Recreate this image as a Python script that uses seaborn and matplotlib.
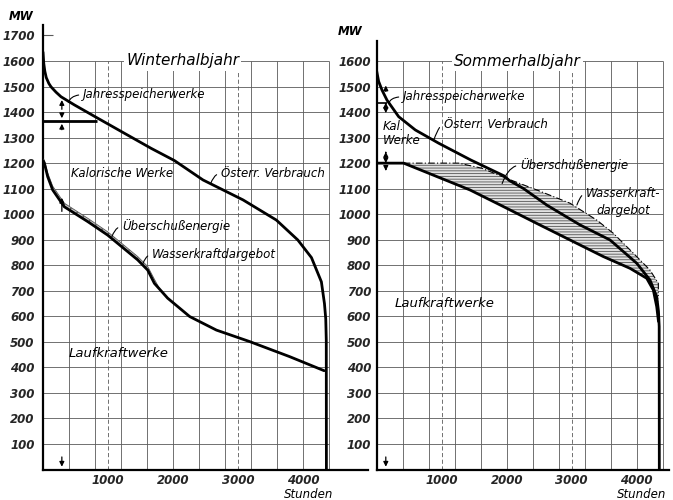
import matplotlib
matplotlib.use("Agg")
import matplotlib.pyplot as plt
import numpy as np
import pandas as pd
import seaborn as sns

# Winterhalbjahr (hours, MW)
winter_demand_h = [0, 12, 28, 50, 90, 123, 200, 277, 483, 842, 1252, 1663, 2022, 2462, 3077, 3590, 3920, 4130, 4283, 4330, 4350, 4358, 4360]
winter_demand_mw = [1635, 1590, 1560, 1535, 1512, 1499, 1478, 1460, 1428, 1376, 1317, 1258, 1210, 1134, 1056, 977, 899, 830, 735, 650, 590, 507, 0]
winter_run_h = [0, 21, 72, 149, 328, 688, 995, 1457, 1611, 1714, 1918, 2257, 2668, 3180, 3795, 4325]
winter_run_mw = [1210, 1200, 1147, 1095, 1029, 971, 918, 821, 781, 729, 671, 599, 546, 501, 442, 387]
winter_hydro_h = [0, 21, 72, 149, 328, 688, 995, 1457, 1611, 1714, 1800]
winter_hydro_mw = [1216, 1212, 1162, 1110, 1043, 984, 931, 834, 795, 745, 705]
winter_storage_mw = 1365
winter_storage_h = 830

# Sommerhalbjahr
summer_demand_h = [0, 30, 82, 158, 338, 594, 954, 1450, 1960, 2040, 2256, 2615, 3128, 3590, 4000, 4205, 4308, 4335, 4346, 4348]
summer_demand_mw = [1560, 1520, 1486, 1447, 1382, 1330, 1278, 1212, 1150, 1132, 1101, 1036, 958, 899, 808, 742, 677, 620, 560, 0]
summer_run_h = [0, 415, 1435, 1948, 2462, 2974, 3487, 3897, 4154, 4256, 4308, 4335]
summer_run_mw = [1200, 1200, 1095, 1030, 964, 899, 834, 788, 749, 703, 638, 580]
summer_hydro_h = [415, 1262, 1620, 2000, 2462, 2974, 3385, 3641, 3949, 4205, 4333, 4333]
summer_hydro_mw = [1200, 1200, 1180, 1140, 1095, 1043, 977, 925, 847, 781, 729, 680]
summer_storage_mw = 1437
summer_storage_h = 160

y_ticks_left = [100, 200, 300, 400, 500, 600, 700, 800, 900, 1000, 1100, 1200, 1300, 1400, 1500, 1600, 1700]
y_ticks_right = y_ticks_left[:-1]
x_ticks = [1000, 2000, 3000, 4000]

sns.set_style("white")
plt.rcParams["font.family"] = ["Liberation Sans Narrow", "DejaVu Sans"]
plt.rcParams["hatch.linewidth"] = 0.6

fig = plt.figure(figsize=(6.73, 5.0), dpi=100)
ax1 = fig.add_axes([43 / 673, 30.5 / 500, 325 / 673, 444.5 / 500])
ax2 = fig.add_axes([376.7 / 673, 30.5 / 500, 292.5 / 673, 428.9 / 500])

txt = dict(style="italic", color="black")
grid_c = "#5a5a5a"


def frame(ax, ymax, yticks, pad):
    ax.set_xlim(0, ax.get_position().width * 673 / 0.065)
    ax.set_ylim(0, ymax)
    for s in ["top", "right"]:
        ax.spines[s].set_visible(False)
    for s in ["left", "bottom"]:
        ax.spines[s].set_linewidth(1.6)
        ax.spines[s].set_color("black")
    # grid of the original drawing
    ax.hlines(range(100, 1700, 100), 0, 4400, color=grid_c, lw=0.6, zorder=1)
    ax.vlines(range(400, 4800, 400), 0, 1600, color=grid_c, lw=0.6, zorder=1)
    ax.vlines([1000, 3000], 0, 1600, color=grid_c, lw=0.6, linestyles=(0, (5, 3)), zorder=1)
    ax.set_yticks(yticks)
    ax.set_yticklabels([str(v) for v in yticks], fontsize=8.5, style="italic", weight="bold")
    ax.set_xticks(x_ticks)
    ax.set_xticklabels([str(v) for v in x_ticks], fontsize=8.5, style="italic", weight="bold")
    ax.tick_params(axis="y", length=0, pad=pad)
    ax.tick_params(axis="x", length=0, pad=3)
    ax.set_xlabel("")
    ax.set_ylabel("")


def curve(ax, hx, hy, lw=2.0, **kw):
    sns.lineplot(x=hx, y=hy, sort=False, estimator=None, color="black", lw=lw, ax=ax, zorder=4, **kw)


def arrow(ax, x, y0, y1):
    ax.annotate("", xy=(x, y1), xytext=(x, y0),
                arrowprops=dict(arrowstyle="-|>", color="black", lw=0.9, mutation_scale=7), zorder=5)


def leader(ax, label, xy, xytext, **kw):
    # short hooked line from the left edge of the label to the curve
    ax.annotate(label, xy=xy, xytext=xytext, fontsize=kw.pop("fontsize", 8.5), va="center", ha="left",
                arrowprops=dict(arrowstyle="-", color="black", lw=0.8, relpos=(0, 0.5),
                                connectionstyle="angle3,angleA=0,angleB=70", shrinkA=1, shrinkB=0),
                zorder=6, **txt, **kw)


# ---------- Winterhalbjahr ----------
frame(ax1, 1741, y_ticks_left, 6)
ax1.hlines(1700, 0, 160, color=grid_c, lw=0.8)
band = np.array(list(zip(winter_hydro_h, winter_hydro_mw)) +
                list(zip(winter_run_h[:11][::-1], winter_run_mw[:11][::-1])))
ax1.fill(band[:, 0], band[:, 1], facecolor="#c8c8c8", edgecolor="#555555", lw=0.6, hatch="....", zorder=3)
curve(ax1, winter_demand_h, winter_demand_mw)
curve(ax1, winter_run_h, winter_run_mw)
ax1.hlines(winter_storage_mw, 0, winter_storage_h, color="black", lw=2.0, zorder=4)

arrow(ax1, 290, 1400, 1458)
arrow(ax1, 290, 1400, winter_storage_mw)
arrow(ax1, 290, 1320, winter_storage_mw)
arrow(ax1, 290, 1000, 1075)
arrow(ax1, 290, 60, 0)

ax1.text(2150, 1600, "Winterhalbjahr", fontsize=11, ha="center", va="center", zorder=6,
         bbox=dict(facecolor="white", edgecolor="none", pad=1.5), **txt)
leader(ax1, "Jahresspeicherwerke", (390, 1438), (620, 1468))
ax1.text(430, 1160, "Kalorische Werke", fontsize=8.5, va="center", **txt)
leader(ax1, "Österr. Verbrauch", (2580, 1120), (2740, 1160))
leader(ax1, "Überschußenergie", (1060, 912), (1220, 952))
leader(ax1, "Wasserkraftdargebot", (1540, 808), (1680, 842))
ax1.text(400, 455, "Laufkraftwerke", fontsize=9.5, va="center", **txt)
ax1.text(-330, 1775, "MW", fontsize=8.5, ha="center", va="center", weight="bold", clip_on=False, **txt)
ax1.text(4080, -97, "Stunden", fontsize=8.5, ha="center", va="center", clip_on=False, **txt)

# ---------- Sommerhalbjahr ----------
frame(ax2, 1680, y_ticks_right, 4)
poly = np.array(list(zip(summer_hydro_h, summer_hydro_mw)) +
                list(zip(summer_run_h[1:][::-1], summer_run_mw[1:][::-1])))
ax2.fill(poly[:, 0], poly[:, 1], facecolor="#e2e2e2", edgecolor="#555555", lw=0, hatch="------", zorder=3)
sns.lineplot(x=summer_hydro_h, y=summer_hydro_mw, sort=False, estimator=None, color="black", lw=0.8,
             linestyle=(0, (6, 2, 1, 2)), ax=ax2, zorder=4)
curve(ax2, summer_demand_h, summer_demand_mw)
curve(ax2, summer_run_h, summer_run_mw)
ax2.hlines(summer_storage_mw, 0, summer_storage_h, color="black", lw=1.2, zorder=4)

arrow(ax2, 140, 1470, 1515)
arrow(ax2, 140, 1420, summer_storage_mw)
arrow(ax2, 140, 1420, 1385)
arrow(ax2, 140, 1230, 1255)
arrow(ax2, 140, 1215, 1200)
arrow(ax2, 140, 1190, 1170)
arrow(ax2, 140, 60, 0)

ax2.text(2170, 1600, "Sommerhalbjahr", fontsize=11, ha="center", va="center", zorder=6,
         bbox=dict(facecolor="white", edgecolor="none", pad=1.5), **txt)
leader(ax2, "Jahresspeicherwerke", (190, 1437), (410, 1460))
ax2.text(90, 1345, "Kal.", fontsize=8.5, va="center", **txt)
ax2.text(90, 1290, "Werke", fontsize=8.5, va="center", **txt)
leader(ax2, "Österr. Verbrauch", (880, 1292), (1030, 1352))
leader(ax2, "Überschußenergie", (1930, 1120), (2210, 1192))
leader(ax2, "Wasserkraft-", (3080, 1036), (3220, 1082))
ax2.text(3380, 1013, "dargebot", fontsize=8.5, va="center", **txt)
ax2.text(280, 652, "Laufkraftwerke", fontsize=9.5, va="center", **txt)
ax2.text(-410, 1716, "MW", fontsize=8.5, ha="center", va="center", weight="bold", clip_on=False, **txt)
ax2.text(4070, -97, "Stunden", fontsize=8.5, ha="center", va="center", clip_on=False, **txt)

fig.savefig("out.png", dpi=100)
